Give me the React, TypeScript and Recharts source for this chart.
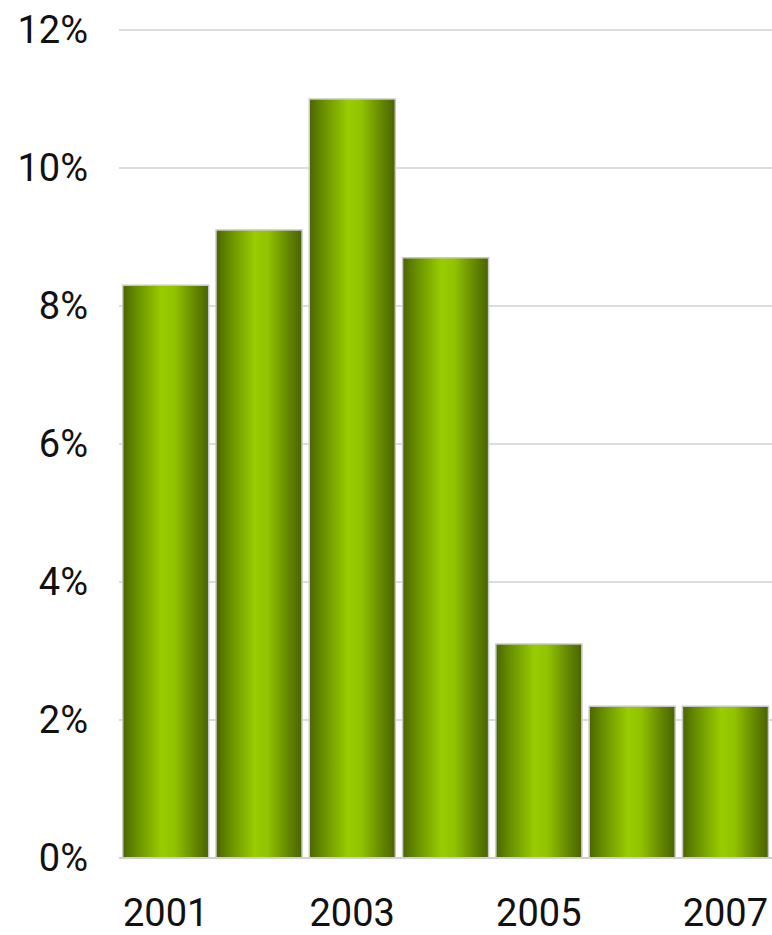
import { BarChart, Bar, CartesianGrid, XAxis, YAxis } from "recharts";

const YEARS = ["2001", "2002", "2003", "2004", "2005", "2006", "2007"]
const GROWTH = [8.3, 9.1, 11.0, 8.7, 3.1, 2.2, 2.2]
const Y_TICKS = [0, 2, 4, 6, 8, 10, 12]

const FONT = "Roboto, 'Liberation Sans', Arial, sans-serif"
const TICK_STYLE = { fill: "#111", fontSize: 38, fontFamily: FONT }

const chartData = YEARS.map((year, idx) => ({ year, growth: GROWTH[idx] }))

export default function App() {
    return (
        <div style={{ position: "absolute", left: 0, top: 0, width: 772, height: 935, background: "#fff" }}>
            <BarChart
                width={772}
                height={935}
                data={chartData}
                margin={{ top: 30, right: 0, left: 0, bottom: 0 }}
                barCategoryGap="4%"
            >
                <defs>
                    <linearGradient id="barShade" x1="0" y1="0" x2="1" y2="0">
                        <stop offset="0%" stopColor="#4a6500" />
                        <stop offset="15%" stopColor="#668c00" />
                        <stop offset="45%" stopColor="#99cc00" />
                        <stop offset="60%" stopColor="#92c300" />
                        <stop offset="85%" stopColor="#628400" />
                        <stop offset="100%" stopColor="#4a6400" />
                    </linearGradient>
                </defs>
                <CartesianGrid vertical={false} stroke="#d0d0d0" strokeWidth={1.5} />
                <XAxis
                    dataKey="year"
                    interval={1}
                    height={77}
                    tickLine={false}
                    tickSize={0}
                    tickMargin={41}
                    axisLine={{ stroke: "#d0d0d0", strokeWidth: 2 }}
                    tick={TICK_STYLE}
                />
                <YAxis
                    domain={[0, 12]}
                    ticks={Y_TICKS}
                    width={119}
                    tickLine={false}
                    tickSize={0}
                    tickMargin={31}
                    axisLine={false}
                    tickFormatter={(v) => `${v}%`}
                    tick={TICK_STYLE}
                />
                <Bar dataKey="growth" fill="url(#barShade)" stroke="#c8c8c8" strokeWidth={1.5} isAnimationActive={false} />
            </BarChart>
        </div>
    )
}
